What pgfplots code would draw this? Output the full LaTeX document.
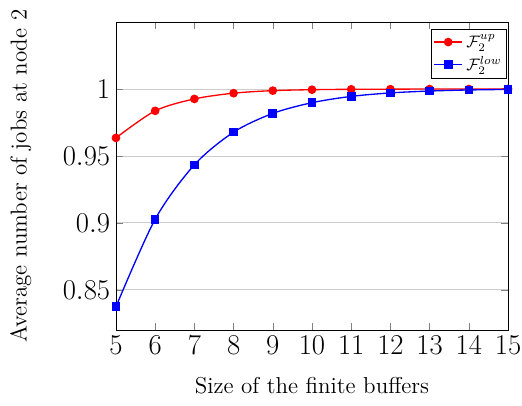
\documentclass[border=0pt]{standalone}
\usepackage{pgfplots}
\pgfplotsset{compat=1.18}
\usetikzlibrary{calc}
\begin{document}
\begin{tikzpicture}
\begin{axis}[
  scale only axis,
  width=236pt, height=185.4pt,
  xmin=5, xmax=15, ymin=0.82, ymax=1.05,
  xtick={5,6,...,15},
  ytick={0.85,0.9,0.95,1},
  yticklabel style={font=\LARGE, /pgf/number format/fixed, /pgf/number format/precision=2},
  xticklabel style={font=\LARGE},
  ymajorgrids=true,
  grid style={gray!40},
  xlabel={Size of the finite buffers},
  ylabel={Average number of jobs at node 2},
  xlabel style={font=\fontsize{13.85}{16}\selectfont, yshift=-7pt},
  ylabel style={font=\fontsize{13.85}{16}\selectfont, yshift=12pt},
  legend style={font=\normalsize, legend cell align=left, at={(0.997,0.977)}, anchor=north east, inner sep=1pt, row sep=0pt},
]
\addplot[red, thick, mark=*, mark size=2.2pt, smooth] coordinates {
(5,0.9634) (6,0.9836) (7,0.9925) (8,0.9968) (9,0.9987) (10,0.9994) (11,0.9997) (12,0.9998) (13,0.9999) (14,0.9999) (15,1.0)
};
\addlegendentry{$\mathcal{F}_2^{up}$}
\addplot[blue, thick, mark=square*, mark size=2.2pt, smooth] coordinates {
(5,0.8373) (6,0.9027) (7,0.9433) (8,0.9677) (9,0.9817) (10,0.9897) (11,0.9944) (12,0.9970) (13,0.9984) (14,0.9992) (15,0.9996)
};
\addlegendentry{$\mathcal{F}_2^{low}$}
\end{axis}
\pgfresetboundingbox
\path ($(current axis.south west)+(-69.8pt,-45.2pt)$) rectangle ($(current axis.north east)+(8.4pt,13.2pt)$);
\end{tikzpicture}
\end{document}
